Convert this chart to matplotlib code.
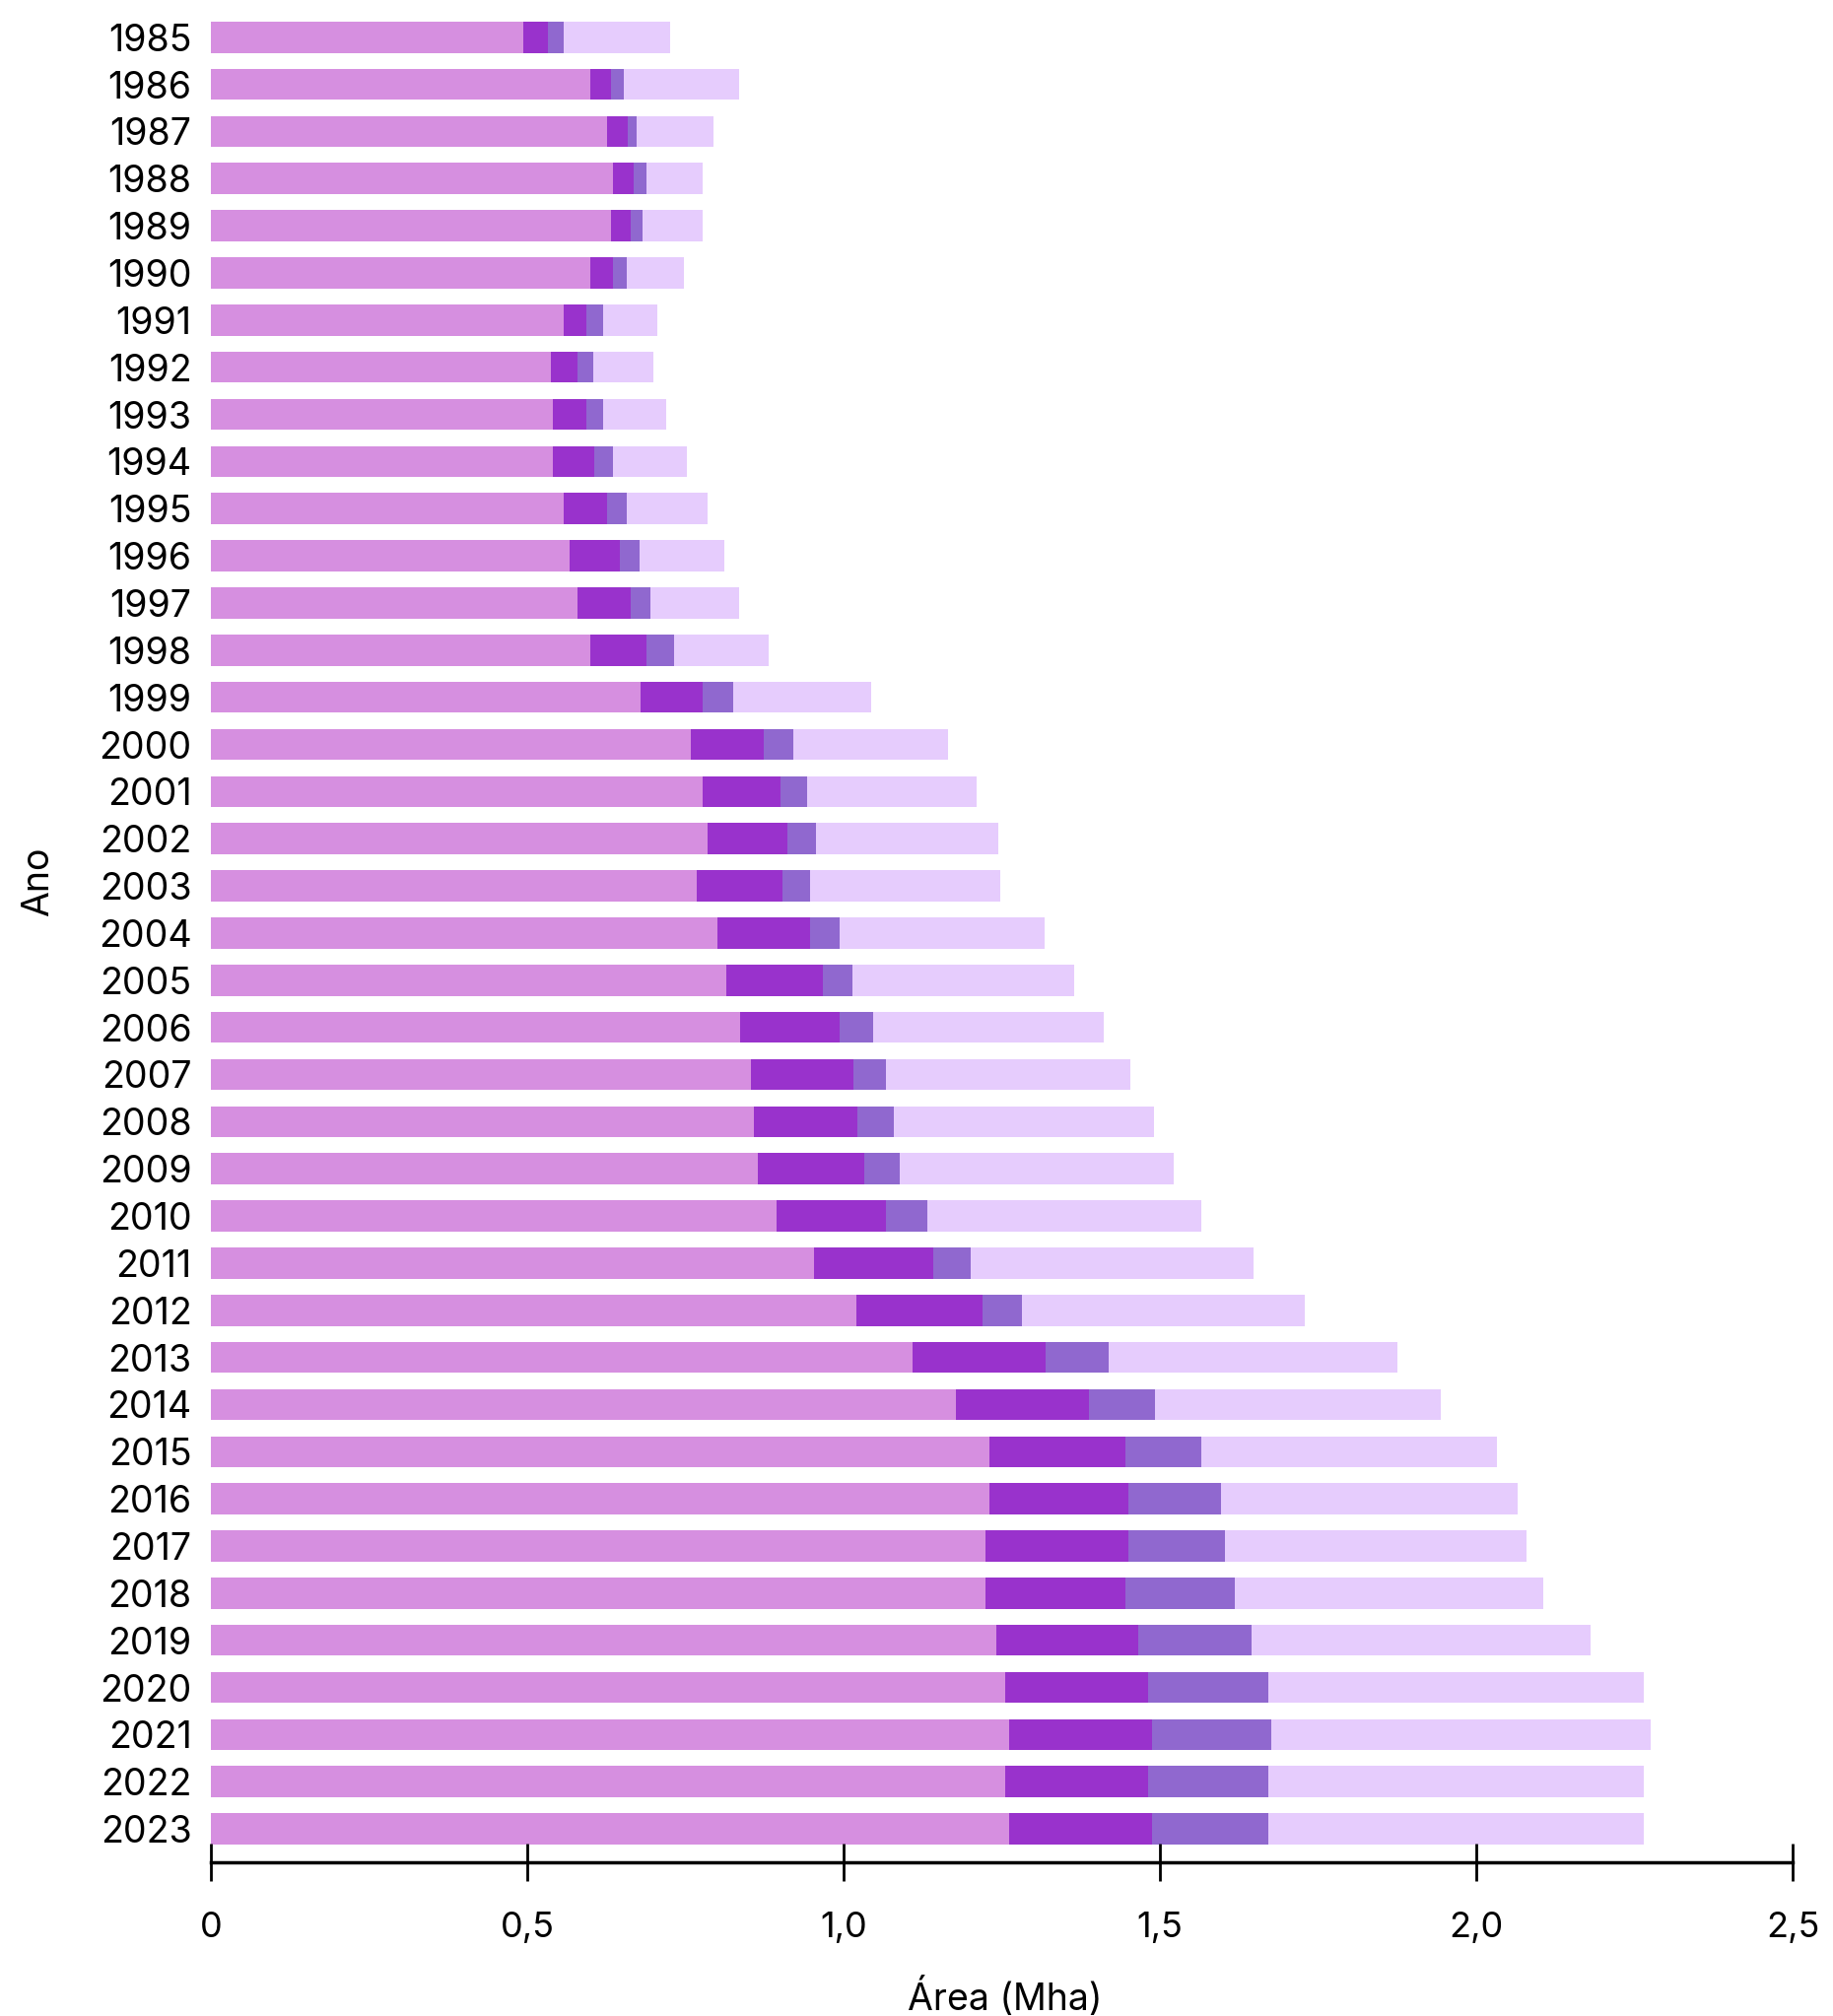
import numpy as np
import matplotlib
matplotlib.use("Agg")
import matplotlib.pyplot as plt

plt.rcParams['font.family'] = ['Inter', 'DejaVu Sans']

anos = list(range(1985, 2024))

# cumulative ends of each segment (Mha)
fim1 = [0.494, 0.600, 0.626, 0.636, 0.632, 0.600, 0.557, 0.537, 0.541, 0.541,
        0.557, 0.567, 0.579, 0.600, 0.679, 0.758, 0.778, 0.785, 0.768, 0.801,
        0.815, 0.837, 0.854, 0.858, 0.864, 0.894, 0.953, 1.020, 1.109, 1.177,
        1.230, 1.230, 1.225, 1.225, 1.241, 1.256, 1.261, 1.256, 1.261]
fim2 = [0.533, 0.632, 0.659, 0.669, 0.663, 0.636, 0.593, 0.579, 0.593, 0.606,
        0.626, 0.646, 0.663, 0.689, 0.778, 0.874, 0.900, 0.911, 0.904, 0.947,
        0.967, 0.994, 1.016, 1.022, 1.033, 1.067, 1.142, 1.219, 1.320, 1.388,
        1.445, 1.450, 1.450, 1.445, 1.466, 1.482, 1.487, 1.482, 1.487]
fim3 = [0.557, 0.652, 0.673, 0.689, 0.683, 0.657, 0.620, 0.604, 0.620, 0.636,
        0.657, 0.677, 0.695, 0.732, 0.825, 0.921, 0.943, 0.957, 0.947, 0.994,
        1.014, 1.047, 1.067, 1.079, 1.089, 1.132, 1.201, 1.282, 1.419, 1.492,
        1.566, 1.597, 1.603, 1.619, 1.645, 1.671, 1.676, 1.671, 1.671]
total = [0.726, 0.835, 0.795, 0.778, 0.778, 0.748, 0.705, 0.699, 0.720, 0.752,
         0.785, 0.811, 0.835, 0.882, 1.043, 1.165, 1.211, 1.244, 1.248, 1.317,
         1.364, 1.411, 1.453, 1.490, 1.522, 1.565, 1.648, 1.729, 1.876, 1.944,
         2.033, 2.065, 2.080, 2.106, 2.180, 2.264, 2.275, 2.264, 2.264]

cores = ['#d68fe0', '#9932cc', '#9068cf', '#e6ccfd']

fim1 = np.array(fim1)
fim2 = np.array(fim2)
fim3 = np.array(fim3)
total = np.array(total)

fig = plt.figure(figsize=(18.6, 20.46), dpi=100)
ax = fig.add_axes([0.115, 0.0762, 0.863, 0.9194])

y = np.arange(len(anos))
h = 0.66
ax.barh(y, fim1, height=h, color=cores[0], edgecolor='none')
ax.barh(y, fim2 - fim1, left=fim1, height=h, color=cores[1], edgecolor='none')
ax.barh(y, fim3 - fim2, left=fim2, height=h, color=cores[2], edgecolor='none')
ax.barh(y, total - fim3, left=fim3, height=h, color=cores[3], edgecolor='none')

ax.set_ylim(len(anos) - 1 + 0.71, -0.6)
ax.set_xlim(0, 2.5)
ax.set_yticks(y)
ax.set_yticklabels([str(a) for a in anos], fontsize=27)
ax.tick_params(axis='y', length=0, pad=14)

ax.set_xticks([0, 0.5, 1.0, 1.5, 2.0, 2.5])
ax.set_xticklabels(['0', '0,5', '1,0', '1,5', '2,0', '2,5'], fontsize=26)
ax.tick_params(axis='x', direction='inout', length=28, width=2, pad=22)

for s in ['top', 'right', 'left']:
    ax.spines[s].set_visible(False)
ax.spines['bottom'].set_linewidth(2.5)

ax.set_xlabel('Área (Mha)', fontsize=27)
ax.xaxis.set_label_coords(0.502, -0.062)
ax.set_ylabel('Ano', fontsize=27)
ax.yaxis.set_label_coords(-0.098, 0.529)

fig.savefig('out.png', dpi=100)
